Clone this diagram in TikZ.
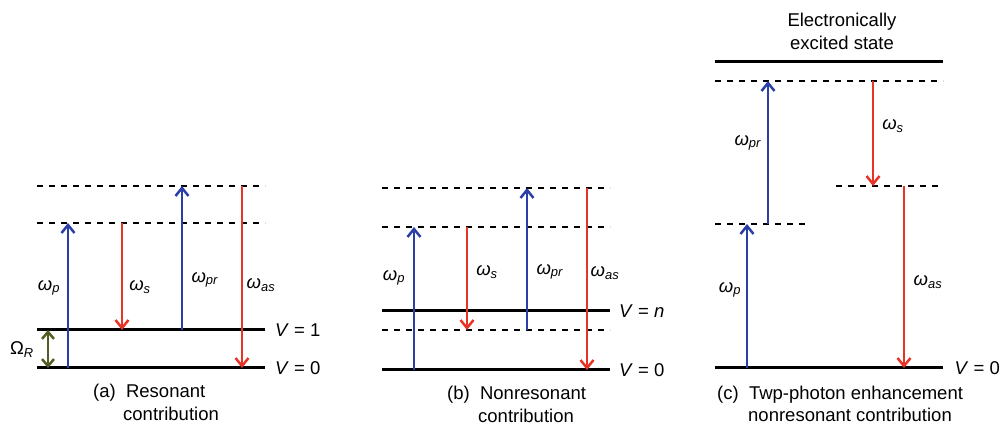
\documentclass[tikz,border=0pt]{standalone}
\usepackage{fontspec}
\setmainfont{Liberation Sans}
\usetikzlibrary{arrows.meta}
\definecolor{pblue}{RGB}{43,62,168}
\definecolor{sred}{RGB}{232,52,38}
\definecolor{ogreen}{RGB}{80,94,36}
\tikzset{
  level/.style={line width=3pt, black},
  virt/.style={line width=2.4pt, black, dash pattern=on 6pt off 6pt},
  up/.style={line width=2.5pt, pblue, -{Straight Barb[length=8pt,width=13pt,line width=2.5pt]}},
  down/.style={line width=2.5pt, sred, -{Straight Barb[length=8pt,width=13pt,line width=2.5pt]}},
  gap/.style={line width=2.5pt, ogreen, {Straight Barb[length=7pt,width=12pt,line width=2.5pt]}-{Straight Barb[length=7pt,width=12pt,line width=2.5pt]}},
  lab/.style={font=\fontsize{18.5}{21}\selectfont, inner sep=0pt},
  captxt/.style={font=\fontsize{18.5}{23}\selectfont, inner sep=0pt, align=left, anchor=north west}
}
\newcommand{\om}[1]{\textit{ω}\textsubscript{\textit{#1}}}
\begin{document}
\begin{tikzpicture}[x=1pt,y=-1pt]
\useasboundingbox (0,0) rectangle (1001,427);
% ---------------- panel (a)
\draw[virt] (37,186) -- (265,186);
\draw[virt] (37,223) -- (265,223);
\draw[level] (37,330) -- (265,330);
\draw[level] (37,368) -- (265,368);
\coordinate (a0p) at (68,368); \coordinate (a1p) at (68,223);
\coordinate (a0s) at (122,223); \coordinate (a1s) at (122,330);
\coordinate (a0r) at (182,330); \coordinate (a1r) at (182,186);
\coordinate (a0a) at (242,186); \coordinate (a1a) at (242,368);
\coordinate (a0g) at (48,330); \coordinate (a1g) at (48,368);
\draw[up] (a0p) -- (a1p);
\draw[down] (a0s) -- (a1s);
\draw[up] (a0r) -- (a1r);
\draw[down] (a0a) -- (a1a);
\draw[gap] (a0g) -- (a1g);
\node[lab] (awp) at (49,288) {\om{p}};
\node[lab] (aws) at (140,287) {\om{s}};
\node[lab] (awr) at (205,280) {\om{pr}};
\node[lab] (awa) at (261,285) {\om{as}};
\node[lab] (aom) at (22,350) {Ω\textsubscript{\textit{R}}};
\node[lab, anchor=west] (av1) at (275,330) {\textit{V} = 1};
\node[lab, anchor=west] (av0) at (275,368) {\textit{V} = 0};
\node[captxt] (acap) at (93,384) {(a)\ \ Resonant\\\hspace*{30pt}contribution};
% ---------------- panel (b)
\draw[virt] (382,188) -- (610,188);
\draw[virt] (382,227) -- (610,227);
\draw[level] (382,311) -- (610,311);
\draw[virt] (382,330) -- (610,330);
\draw[level] (382,370) -- (610,370);
\coordinate (b0p) at (414,370); \coordinate (b1p) at (414,227);
\coordinate (b0s) at (467,227); \coordinate (b1s) at (467,330);
\coordinate (b0r) at (527,330); \coordinate (b1r) at (527,188);
\coordinate (b0a) at (587,188); \coordinate (b1a) at (587,370);
\draw[up] (b0p) -- (b1p);
\draw[down] (b0s) -- (b1s);
\draw[up] (b0r) -- (b1r);
\draw[down] (b0a) -- (b1a);
\node[lab] (bwp) at (394,278) {\om{p}};
\node[lab] (bws) at (487,272) {\om{s}};
\node[lab] (bwr) at (550,272) {\om{pr}};
\node[lab] (bwa) at (605,273) {\om{as}};
\node[lab, anchor=west] (bvn) at (619,311) {\textit{V} = \textit{n}};
\node[lab, anchor=west] (bv0) at (619,370) {\textit{V} = 0};
\node[captxt] (bcap) at (447,386) {(b)\ \ Nonresonant\\\hspace*{31pt}contribution};
% ---------------- panel (c)
\node[captxt, align=center, anchor=center] (ctitle) at (842,31) {Electronically\\excited state};
\draw[level] (715,62) -- (943,62);
\draw[virt] (715,81) -- (943,81);
\draw[virt] (836,186) -- (940,186);
\draw[virt] (715,224) -- (807,224);
\draw[level] (715,368) -- (943,368);
\coordinate (c0p) at (747,368); \coordinate (c1p) at (747,224);
\coordinate (c0r) at (768,224); \coordinate (c1r) at (768,81);
\coordinate (c0s) at (873,81); \coordinate (c1s) at (873,186);
\coordinate (c0a) at (904,186); \coordinate (c1a) at (904,368);
\draw[up] (c0p) -- (c1p);
\draw[up] (c0r) -- (c1r);
\draw[down] (c0s) -- (c1s);
\draw[down] (c0a) -- (c1a);
\node[lab] (cwr) at (748,143) {\om{pr}};
\node[lab] (cws) at (893,126) {\om{s}};
\node[lab] (cwp) at (730,290) {\om{p}};
\node[lab] (cwa) at (928,282) {\om{as}};
\node[lab, anchor=east] (cv0) at (1000,368) {\textit{V} = 0};
\node[captxt, font=\fontsize{18.5}{22}\selectfont] (ccap) at (717,386) {(c)\ \ Twp-photon enhancement\\\hspace*{31pt}nonresonant contribution};
\end{tikzpicture}
\end{document}
